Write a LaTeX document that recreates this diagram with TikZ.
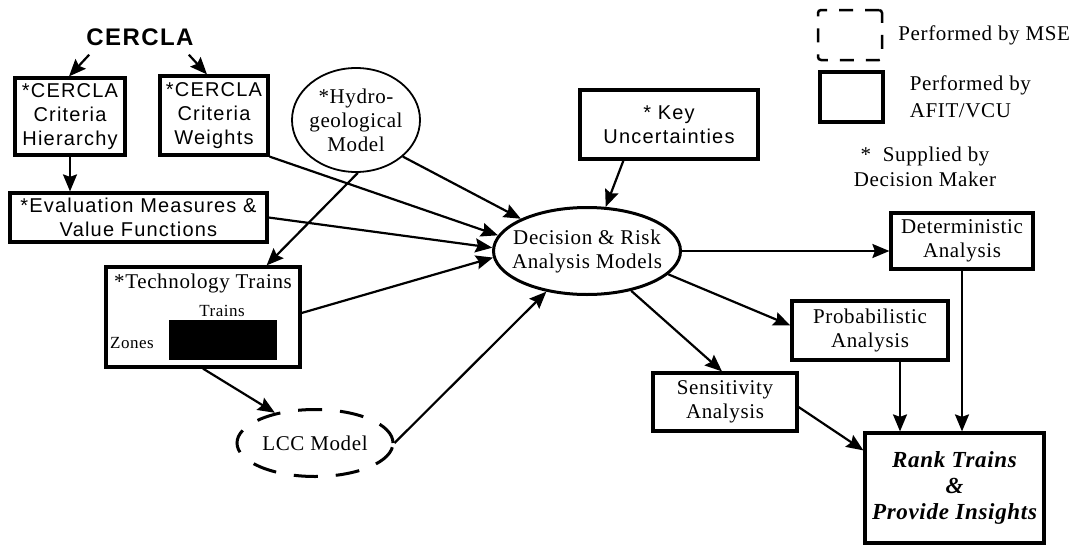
\documentclass[tikz,border=0pt]{standalone}
\usepackage{fontspec}
\setmainfont{Liberation Serif}[LetterSpace=3]
\setsansfont{Liberation Sans}[LetterSpace=6]
\usepackage{tikz}
\usetikzlibrary{positioning,arrows.meta,shapes.geometric}
\tikzset{
  sbox/.style={draw, line width=3.2pt, align=center, inner sep=0pt, font=\fontsize{20}{24}\selectfont\sffamily},
  rbox/.style={draw, line width=3.2pt, align=center, inner sep=0pt, font=\fontsize{21}{24}\selectfont},
  oval/.style={ellipse, draw, align=center, inner sep=0pt, font=\fontsize{21}{24}\selectfont},
  arr/.style={-{Stealth[length=17pt,width=14pt,inset=2.5pt]}, line width=2.2pt},
  lbl/.style={align=left, inner sep=0pt, font=\fontsize{21}{27}\selectfont},
}

\begin{document}
\begin{tikzpicture}[x=1pt, y=-1pt]
  \useasboundingbox (0,0) rectangle (1081,546);
  % inputs
  \node[inner sep=0pt, font=\fontsize{24}{24}\selectfont\sffamily\bfseries] (cercla) at (140,37) {CERCLA};
  \node[sbox, minimum width=110pt, minimum height=77pt] (hier) at (70,116.5) {*CERCLA\\Criteria\\Hierarchy};
  \node[sbox, minimum width=108pt, minimum height=79pt] (wts) at (214,115.5) {*CERCLA\\Criteria\\Weights};
  \node[oval, line width=1.8pt, minimum width=128pt, minimum height=104pt, inner xsep=-6pt] (hydro) at (356,120) {*Hydro-\\geological\\Model};
  \node[sbox, minimum width=178pt, minimum height=69pt] (key) at (669,124.5) {* Key\\Uncertainties};
  \node[sbox, minimum width=257pt, minimum height=49pt] (eval) at (138.5,217.5) {*Evaluation Measures \&\\Value Functions};
  % technology trains box
  \node[rbox, minimum width=194pt, minimum height=100pt] (tech) at (203,317) {};
  \node[inner sep=0pt, font=\fontsize{21}{24}\selectfont, below=8pt of tech.north] (techt) {*Technology Trains};
  \node[inner sep=0pt, font=\fontsize{17}{17}\selectfont] (trn) at (222,311) {Trains};
  \node[inner sep=0pt, font=\fontsize{17}{17}\selectfont] (zn) at (132,343) {Zones};
  \node[fill=black, minimum width=108pt, minimum height=40pt, inner sep=0pt] (mat) at (223,340) {};
  \node[oval, line width=3pt, dash pattern=on 24pt off 18pt, minimum width=156pt, minimum height=67pt] (lcc) at (315,443) {LCC Model};
  % models and analyses
  \node[oval, line width=3pt, minimum width=187pt, minimum height=87pt, inner xsep=-11pt] (dec) at (587,251) {Decision \& Risk\\Analysis Models};
  \node[rbox, minimum width=142pt, minimum height=56pt] (det) at (962,241) {Deterministic\\Analysis};
  \node[rbox, minimum width=156pt, minimum height=59pt] (prob) at (870,330.5) {Probabilistic\\Analysis};
  \node[rbox, minimum width=144pt, minimum height=58pt] (sens) at (725,402) {Sensitivity\\Analysis};
  \node[rbox, minimum width=179pt, minimum height=110pt, font=\fontsize{23}{26}\selectfont\bfseries\itshape] (rank) at (954.5,488) {Rank Trains\\\&\\Provide Insights};
  % legend
  \node[draw, line width=2.5pt, dash pattern=on 14pt off 12pt, rounded corners=3pt, minimum width=64pt, minimum height=50pt] (mse) at (850,35) {};
  \node[draw, line width=3.2pt, minimum width=63pt, minimum height=50pt] (afit) at (851.5,97) {};
  \node[lbl, right=15pt of mse] (msel) {Performed by MSE};
  \node[lbl, right=25pt of afit] (afitl) {Performed by\\AFIT/VCU};
  \node[lbl, align=center, font=\fontsize{21}{25}\selectfont] (dml) at (925,167) {* \ Supplied by\\Decision Maker};
  % connectors
  \draw[arr] ([shift={(3,9)}]cercla.south west) -- ([xshift=-1pt]hier.north);
  \draw[arr] ([shift={(-5,9)}]cercla.south east) -- ([xshift=-7pt]wts.north);
  \draw[arr] (hier.south) -- (hier.south |- eval.north);
  \draw[arr] (wts.south east) -- (dec.170);
  \draw[arr] (hydro.-38) -- (dec.154);
  \draw[arr] (hydro.-88) -- ([xshift=-35pt]tech.north east);
  \draw[arr] (eval.east) -- (dec.178);
  \draw[arr] ([shift={(0,-4)}]tech.east) -- (dec.184);
  \draw[arr] (tech.south) -- (lcc.143);
  \draw[arr] (lcc.east) -- (dec.-135);
  \draw[arr] ([xshift=45pt]key.south west) -- (dec.67);
  \draw[arr] (dec.east) -- (dec.east -| det.west);
  \draw[arr] (dec.-16) -- ([shift={(0,-5)}]prob.west);
  \draw[arr] (dec.-42) -- ([xshift=-3pt]sens.north);
  \draw[arr] (det.south) -- (det.south |- rank.north);
  \coordinate (pr) at ([xshift=30pt]prob.south);
  \draw[arr] (pr) -- (pr |- rank.north);
  \draw[arr] ([shift={(0,5)}]sens.east) -- ([shift={(0,19)}]rank.north west);
\end{tikzpicture}
\end{document}
